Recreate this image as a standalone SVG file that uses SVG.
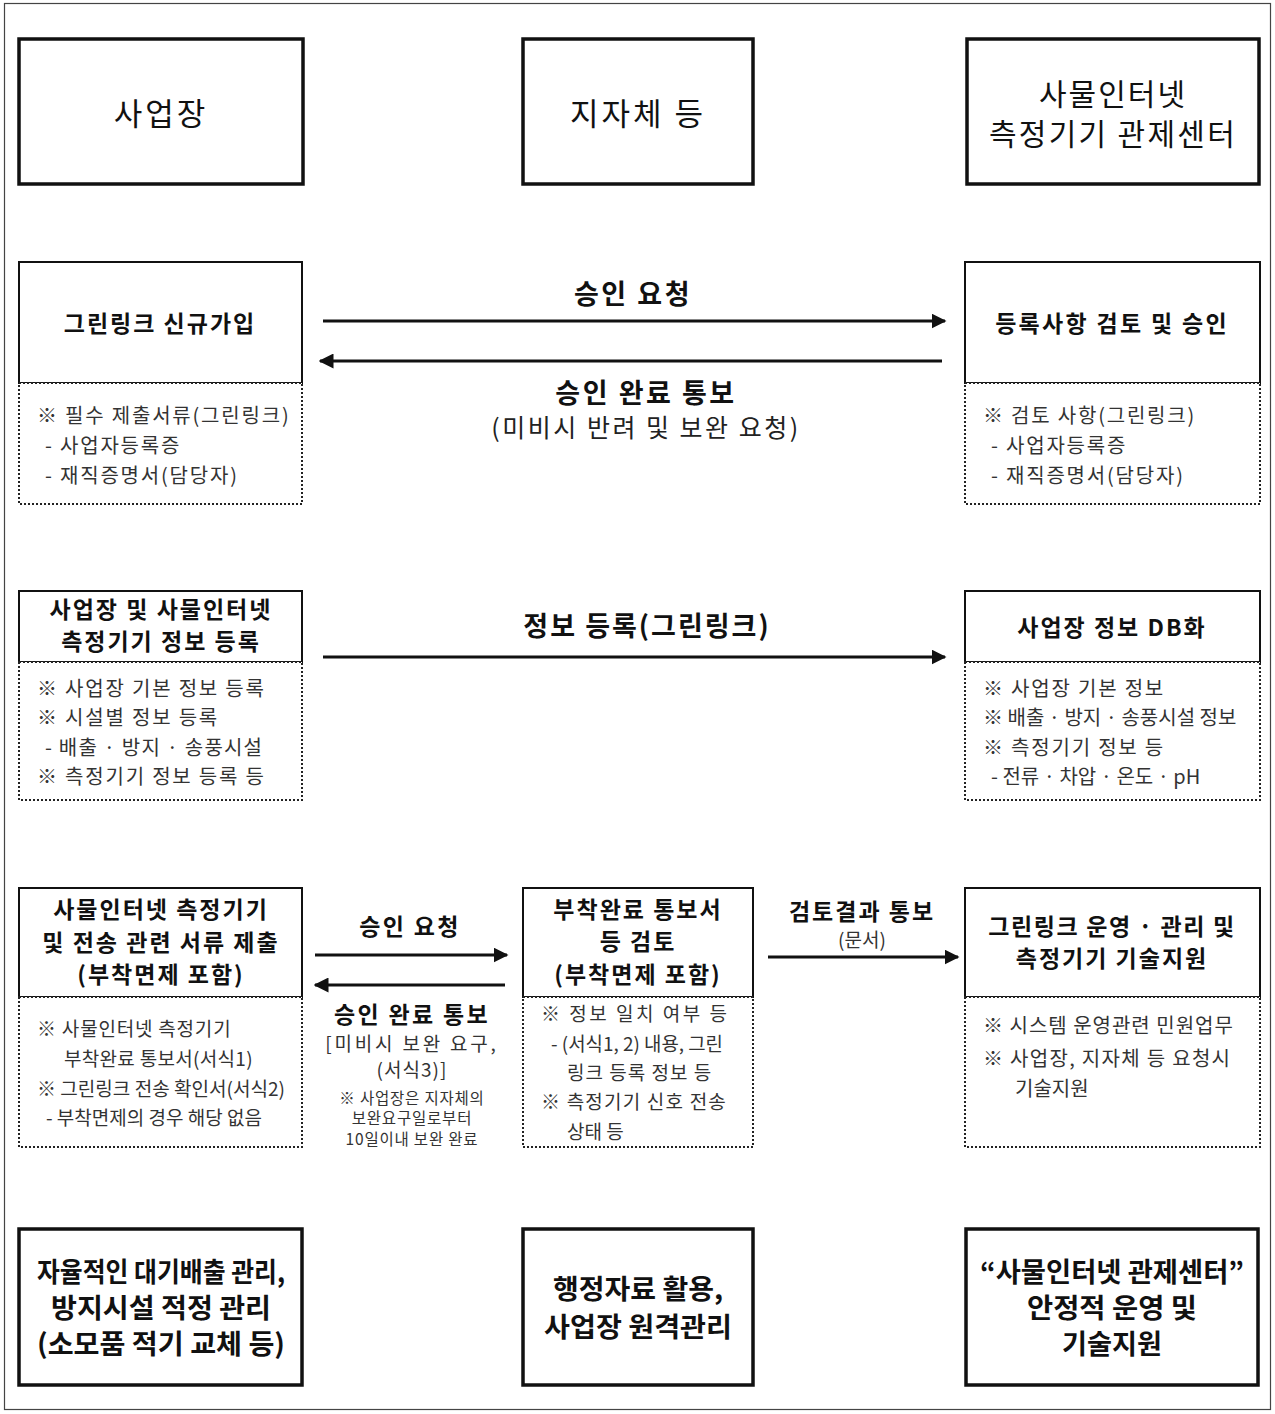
<svg xmlns="http://www.w3.org/2000/svg" width="1275" height="1414" viewBox="0 0 1275 1414">
<style>
text{font-family:"Noto Sans CJK KR","Noto Sans",sans-serif;fill:#111;}
.big{font-size:31px;text-anchor:middle;dominant-baseline:central;}
.ttl{font-size:23px;font-weight:bold;text-anchor:middle;dominant-baseline:central;letter-spacing:2px;}
.lbl{font-size:27px;font-weight:bold;text-anchor:middle;dominant-baseline:central;letter-spacing:2.5px;}
.lbs{font-size:23px;font-weight:bold;text-anchor:middle;dominant-baseline:central;letter-spacing:2.3px;}
.sub{font-size:25px;text-anchor:middle;dominant-baseline:central;fill:#222;letter-spacing:2.5px;}
.note{font-size:20px;dominant-baseline:central;fill:#333;letter-spacing:1.8px;}
.n19{font-size:19px;dominant-baseline:central;fill:#333;}
.nmid{font-size:19px;text-anchor:middle;dominant-baseline:central;fill:#333;}
.nsm{font-size:15.5px;text-anchor:middle;dominant-baseline:central;fill:#333;letter-spacing:0.8px;}
.res{font-size:27px;font-weight:bold;text-anchor:middle;dominant-baseline:central;}
.thick{fill:#fff;stroke:#111;stroke-width:3.5;}
.solid{fill:#fff;stroke:#111;stroke-width:2;}
.dot{fill:#fff;stroke:#222;stroke-width:2;stroke-dasharray:2 2;}
.arr{stroke:#111;stroke-width:3;fill:none;}
</style>
<defs>
<marker id="ah" viewBox="0 0 10 10" refX="9" refY="5" markerWidth="5" markerHeight="5" orient="auto" markerUnits="strokeWidth">
<path d="M0,0 L10,5 L0,10 z" fill="#111"/>
</marker>
</defs>
<rect x="4.5" y="3.5" width="1266" height="1406" fill="#fff" stroke="#444" stroke-width="1.2"/>

<g id="header-site">
<rect class="thick" x="19" y="39" width="284" height="145"/>
<text class="big" x="161" y="111" style="letter-spacing:3px">사업장</text>
</g>
<g id="header-local">
<rect class="thick" x="523" y="39" width="230" height="145"/>
<text class="big" x="638" y="111" style="letter-spacing:3px">지자체 등</text>
</g>
<g id="header-center">
<rect class="thick" x="967" y="39" width="292" height="145"/>
<text class="big" x="1113" y="92" style="font-size:30px;letter-spacing:2px">사물인터넷</text>
<text class="big" x="1113" y="132" style="font-size:30px;letter-spacing:2.3px">측정기기 관제센터</text>
</g>

<g id="signup">
<rect class="solid" x="19" y="262" width="283" height="121"/>
<text class="ttl" x="160" y="322">그린링크 신규가입</text>
<rect class="dot" x="19" y="383" width="283" height="121"/>
<text class="note" x="37" y="414">※ 필수 제출서류(그린링크)</text>
<text class="note" x="45" y="444">- 사업자등록증</text>
<text class="note" x="45" y="474">- 재직증명서(담당자)</text>
</g>
<g id="review-approve">
<rect class="solid" x="965" y="262" width="295" height="121"/>
<text class="ttl" x="1112" y="322" style="letter-spacing:2.3px">등록사항 검토 및 승인</text>
<rect class="dot" x="965" y="383" width="295" height="121"/>
<text class="note" x="983" y="414">※ 검토 사항(그린링크)</text>
<text class="note" x="991" y="444">- 사업자등록증</text>
<text class="note" x="991" y="474">- 재직증명서(담당자)</text>
</g>

<g id="info-register">
<rect class="solid" x="19" y="591" width="283" height="71"/>
<text class="ttl" x="161" y="608">사업장 및 사물인터넷</text>
<text class="ttl" x="161" y="640">측정기기 정보 등록</text>
<rect class="dot" x="19" y="662" width="283" height="138"/>
<text class="note" x="37" y="687">※ 사업장 기본 정보 등록</text>
<text class="note" x="37" y="716">※ 시설별 정보 등록</text>
<text class="note" x="45" y="746" style="letter-spacing:1.2px">- 배출 · 방지 · 송풍시설</text>
<text class="note" x="37" y="775">※ 측정기기 정보 등록 등</text>
</g>
<g id="db">
<rect class="solid" x="965" y="591" width="295" height="71"/>
<text class="ttl" x="1112" y="626">사업장 정보 DB화</text>
<rect class="dot" x="965" y="662" width="295" height="138"/>
<text class="note" x="983" y="687">※ 사업장 기본 정보</text>
<text class="note" x="983" y="716" style="letter-spacing:0">※ 배출 · 방지 · 송풍시설 정보</text>
<text class="note" x="983" y="746">※ 측정기기 정보 등</text>
<text class="note" x="991" y="775" style="letter-spacing:0">- 전류 · 차압 · 온도 · pH</text>
</g>

<g id="submit-docs">
<rect class="solid" x="19" y="888" width="283" height="109"/>
<text class="ttl" x="161" y="908">사물인터넷 측정기기</text>
<text class="ttl" x="161" y="941">및 전송 관련 서류 제출</text>
<text class="ttl" x="161" y="973">(부착면제 포함)</text>
<rect class="dot" x="19" y="997" width="283" height="150"/>
<text class="n19" x="37" y="1027" style="letter-spacing:0.8px">※ 사물인터넷 측정기기</text>
<text class="n19" x="64" y="1057" style="letter-spacing:0.3px">부착완료 통보서(서식1)</text>
<text class="n19" x="37" y="1087" textLength="248" lengthAdjust="spacingAndGlyphs">※ 그린링크 전송 확인서(서식2)</text>
<text class="n19" x="46" y="1116">- 부착면제의 경우 해당 없음</text>
</g>
<g id="review-docs">
<rect class="solid" x="523" y="888" width="230" height="109"/>
<text class="ttl" x="638" y="908">부착완료 통보서</text>
<text class="ttl" x="638" y="940">등 검토</text>
<text class="ttl" x="638" y="973">(부착면제 포함)</text>
<rect class="dot" x="523" y="997" width="230" height="150"/>
<text class="n19" x="541" y="1012" style="letter-spacing:2.5px">※ 정보 일치 여부 등</text>
<text class="n19" x="551" y="1042" textLength="172" lengthAdjust="spacingAndGlyphs">- (서식1, 2) 내용, 그린</text>
<text class="n19" x="567" y="1071" style="letter-spacing:1px">링크 등록 정보 등</text>
<text class="n19" x="541" y="1100" style="letter-spacing:1.2px">※ 측정기기 신호 전송</text>
<text class="n19" x="567" y="1130">상태 등</text>
</g>
<g id="operate-support">
<rect class="solid" x="965" y="888" width="295" height="109"/>
<text class="ttl" x="1112" y="925" style="letter-spacing:1.6px">그린링크 운영 · 관리 및</text>
<text class="ttl" x="1112" y="957">측정기기 기술지원</text>
<rect class="dot" x="965" y="997" width="295" height="150"/>
<text class="note" x="983" y="1024" style="letter-spacing:1px">※ 시스템 운영관련 민원업무</text>
<text class="note" x="983" y="1057" style="letter-spacing:1.3px">※  사업장, 지자체 등 요청시</text>
<text class="note" x="1015" y="1087" style="letter-spacing:0">기술지원</text>
</g>

<g id="result-site">
<rect class="thick" x="19" y="1229" width="283" height="156"/>
<text class="res" x="161" y="1270" textLength="248" lengthAdjust="spacingAndGlyphs">자율적인 대기배출 관리,</text>
<text class="res" x="161" y="1306" textLength="220" lengthAdjust="spacingAndGlyphs">방지시설 적정 관리</text>
<text class="res" x="161" y="1342" textLength="248" lengthAdjust="spacingAndGlyphs">(소모품 적기 교체 등)</text>
</g>
<g id="result-local">
<rect class="thick" x="523" y="1229" width="230" height="156"/>
<text class="res" x="638" y="1287" textLength="170" lengthAdjust="spacingAndGlyphs">행정자료 활용,</text>
<text class="res" x="638" y="1325" textLength="188" lengthAdjust="spacingAndGlyphs">사업장 원격관리</text>
</g>
<g id="result-center">
<rect class="thick" x="966" y="1229" width="292" height="156"/>
<text class="res" x="1112" y="1270" textLength="264" lengthAdjust="spacingAndGlyphs">“사물인터넷 관제센터”</text>
<text class="res" x="1112" y="1306" textLength="170" lengthAdjust="spacingAndGlyphs">안정적 운영 및</text>
<text class="res" x="1112" y="1342" textLength="100" lengthAdjust="spacingAndGlyphs">기술지원</text>
</g>

<g id="connectors">
<line class="arr" x1="323" y1="321" x2="945" y2="321" marker-end="url(#ah)"/>
<line class="arr" x1="942" y1="361" x2="320" y2="361" marker-end="url(#ah)"/>
<text class="lbl" x="633" y="292">승인 요청</text>
<text class="lbl" x="646" y="391">승인 완료 통보</text>
<text class="sub" x="646" y="426">(미비시 반려 및 보완 요청)</text>

<line class="arr" x1="323" y1="657" x2="945" y2="657" marker-end="url(#ah)"/>
<text class="lbl" x="647" y="624" style="letter-spacing:2px">정보 등록(그린링크)</text>

<line class="arr" x1="315" y1="955" x2="507" y2="955" marker-end="url(#ah)"/>
<line class="arr" x1="505" y1="985" x2="315" y2="985" marker-end="url(#ah)"/>
<text class="lbs" x="410" y="925">승인 요청</text>
<text class="lbs" x="412" y="1013">승인 완료 통보</text>
<text class="nmid" x="412" y="1042" style="letter-spacing:2.8px">[미비시 보완 요구,</text>
<text class="nmid" x="412" y="1068" style="letter-spacing:1px">(서식3)]</text>
<text class="nsm" x="412" y="1097">※ 사업장은 지자체의</text>
<text class="nsm" x="412" y="1117">보완요구일로부터</text>
<text class="nsm" x="412" y="1138">10일이내 보완 완료</text>

<line class="arr" x1="768" y1="957" x2="958" y2="957" marker-end="url(#ah)"/>
<text class="lbs" x="862" y="910" style="letter-spacing:2px">검토결과 통보</text>
<text class="nmid" x="862" y="938" font-size="18">(문서)</text>
</g>
</svg>
